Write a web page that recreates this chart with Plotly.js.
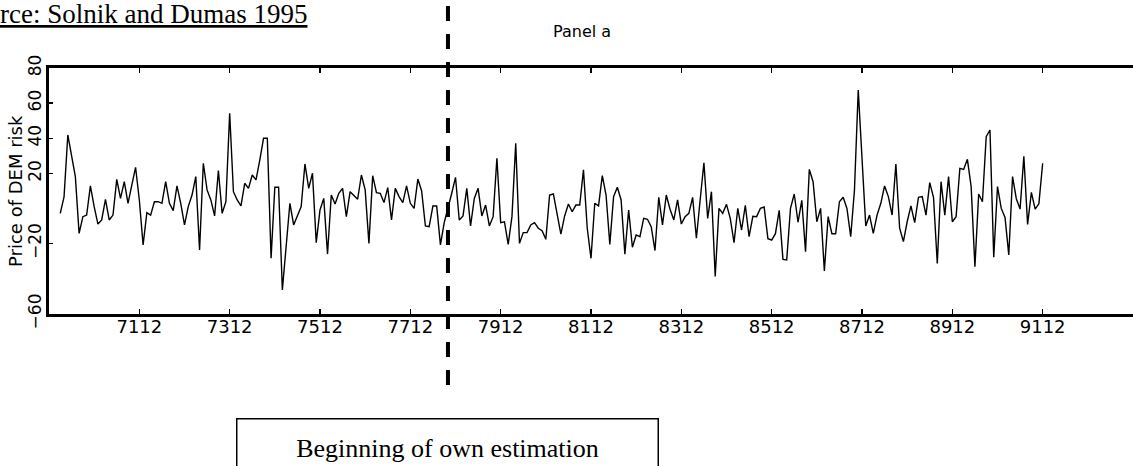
<!DOCTYPE html>
<html>
<head>
<meta charset="utf-8">
<script src="https://cdn.plot.ly/plotly-3.0.1.min.js"></script>
<style>
  html, body { margin: 0; padding: 0; background: #ffffff; }
  #chart { width: 1133px; height: 466px; }
</style>
</head>
<body>
<div id="chart"></div>
<script>
// Monthly index: 0 = January 1970
const firstObsMonth = 2; // March 1970

// Price of DEM risk, monthly, March 1970 - December 1991
const priceOfDEMRisk = [
  -2.7, 6.8, 41.9, 29.5, 18.2, -14.1, -4.6, -3.7, 12.9, 1.1,
  -8.8, -6.5, 5.3, -6.5, -3.7, 16.6, 5.8, 15.3, 3.0, 13.4,
  23.5, 4.9, -20.7, -2.3, -3.7, 3.9, 3.9, 3.0, 15.3, 3.0,
  -1.2, 12.9, 3.0, -9.3, 1.1, 7.7, 18.2, -23.6, 25.8, 10.6,
  4.9, -4.2, 21.6, -2.7, 3.9, 54.2, 9.6, 4.9, 1.5, 14.4,
  11.5, 19.1,
  16.3, 27.6, 40.0, 40.0, -28.3, 12.1, 12.1, -46.3, -22.0, 3.0,
  -9.3, -3.7, 1.1, 25.4, 11.5, 20.1, -19.4, -0.8, 5.8, -25.9,
  7.7, 2.6, 8.7, 11.5, -4.6, 9.6, 7.7, 5.3, 19.1, 10.6,
  -19.8, 18.7, 9.1, 8.7, 3.4, 11.9, -6.5, 11.5, 6.8, 3.4,
  12.9, 3.0, 0.1, 16.8, 10.0, -9.9, -10.3, 1.5, 1.5, -20.7,
  -8.0,
  0.0, 8.7, 17.8, -6.5, -4.2, 11.5, -9.9, 5.8, 11.5, -4.2,
  2.0, -9.9, -4.6, 28.6, -8.0, -7.5, -20.4, -4.6, 37.1, -19.8,
  -13.7, -13.7, -9.3, -8.0, -11.2, -12.6, -17.5, 7.7, 8.3, -3.7,
  -14.5, -4.2, 2.6, -1.8, 2.0, 2.0, 22.0, -11.2, -28.3, 3.0,
  1.5, 18.7, 7.7, -20.4, 6.8, 12.1, 4.9, -25.9, -0.8, -22.0,
  -15.0, -16.0,
  -5.6, -6.1, -10.3, -23.9, 6.4, -9.3, 7.7, -0.4, -6.5, 4.9,
  -8.8, -4.6, -2.7, 6.4, -16.9, 4.9, 26.1, -5.6, 9.6, -38.7,
  0.1, -2.7, 2.4, -5.6, -19.4, 0.1, -12.2, 1.8, -16.0, -4.4,
  -4.6, 0.1, 0.9, -17.1, -17.9, -14.3, -1.0, -28.9, -29.2, 0.1,
  8.3, -7.8, 4.7, -24.5, 22.3, 15.3, -7.5, 0.1, -35.5, -4.6,
  -14.3, -14.3, 3.9,
  6.4, 0.1, -16.0, 10.6, 67.5, 27.6, -9.9, -3.7, -14.1, -3.7,
  3.0, 12.9, 6.8, -3.7, 25.4, -11.2, -18.8, -7.5, 1.5, -8.0,
  6.4, 6.8, -3.7, 14.8, 6.4, -31.2, 15.3, -3.7, 18.2, -7.5,
  -4.6, 22.9, 22.3, 28.0, 12.5, -33.1, 8.3, 3.9, 40.9, 44.7,
  -27.7, 12.5, 0.1, -5.0, -26.4, 18.2, 5.6, -0.3, 29.8, -9.0,
  9.2, -0.3, 2.8, 25.8
];

const xTickLabels = ['7112', '7312', '7512', '7712', '7912', '8112', '8312', '8512', '8712', '8912', '9112'];
const yTickValues = [-60, -20, 20, 40, 60, 80];
const yTickLabels = ['\u221260', '\u221220', '20', '40', '60', '80'];
const estimationStartLabel = '7810';
const xRangeLabels = ['6912', '9312'];

const yymmToMonth = s => (parseInt(s.slice(0, 2), 10) - 70) * 12 + parseInt(s.slice(2), 10) - 1;
const xMonths = priceOfDEMRisk.map((_, i) => firstObsMonth + i);
const xTickMonths = xTickLabels.map(yymmToMonth);
const estimationStartMonth = yymmToMonth(estimationStartLabel);

const sansFont = 'DejaVu Sans, Arial, sans-serif';
const serifFont = 'Liberation Serif, Times New Roman, serif';

const trace = {
  x: xMonths,
  y: priceOfDEMRisk,
  type: 'scatter',
  mode: 'lines',
  line: { color: '#000000', width: 1.4 },
  hoverinfo: 'skip',
  showlegend: false
};

const layout = {
  width: 1133,
  height: 466,
  margin: { l: 49, r: 0, t: 68, b: 152 },
  paper_bgcolor: '#ffffff',
  plot_bgcolor: '#ffffff',
  showlegend: false,
  xaxis: {
    range: xRangeLabels.map(yymmToMonth),
    tickmode: 'array',
    tickvals: xTickMonths,
    ticktext: xTickLabels,
    ticks: 'inside',
    ticklen: 5,
    tickwidth: 1.5,
    tickcolor: '#000000',
    ticklabelstandoff: -6,
    showline: true,
    linewidth: 3,
    linecolor: '#000000',
    mirror: 'ticks',
    showgrid: false,
    zeroline: false,
    tickfont: { family: sansFont, size: 18, color: '#000000' },
    fixedrange: true
  },
  yaxis: {
    range: [-60, 80],
    tickmode: 'array',
    tickvals: yTickValues,
    ticktext: yTickLabels,
    tickangle: -90,
    ticks: 'inside',
    ticklen: 4,
    tickwidth: 1.5,
    tickcolor: '#000000',
    ticklabelstandoff: -2,
    showline: true,
    linewidth: 3,
    linecolor: '#000000',
    mirror: false,
    showgrid: false,
    zeroline: false,
    tickfont: { family: sansFont, size: 17, color: '#000000' },
    fixedrange: true
  },
  shapes: [{
    type: 'line',
    xref: 'x',
    yref: 'paper',
    x0: estimationStartMonth,
    x1: estimationStartMonth,
    y0: 1.252,
    y1: -0.293,
    line: { color: '#000000', width: 4, dash: '15px,13px' }
  }],
  annotations: [
    {
      text: 'Price of DEM risk',
      xref: 'paper', yref: 'paper',
      x: 0, y: 0.5,
      xanchor: 'center', yanchor: 'middle',
      xshift: -34,
      textangle: -90,
      showarrow: false,
      font: { family: sansFont, size: 18, color: '#000000' }
    },
    {
      text: 'Panel a',
      xref: 'paper', yref: 'paper',
      x: 0, y: 1,
      xanchor: 'center', yanchor: 'middle',
      xshift: 533, yshift: 37,
      showarrow: false,
      font: { family: sansFont, size: 16, color: '#000000' }
    },
    {
      text: '<u>rce: Solnik and Dumas 1995</u>',
      xref: 'paper', yref: 'paper',
      x: 0, y: 1,
      xanchor: 'left', yanchor: 'top',
      xshift: -50, yshift: 70,
      showarrow: false,
      borderpad: 0,
      font: { family: serifFont, size: 27, color: '#000000' }
    },
    {
      text: 'Beginning of own estimation',
      xref: 'x', yref: 'paper',
      x: estimationStartMonth, y: 0,
      xanchor: 'center', yanchor: 'middle',
      yshift: -134,
      width: 420, height: 58,
      showarrow: false,
      bgcolor: '#ffffff',
      bordercolor: '#000000',
      borderwidth: 1.5,
      borderpad: 0,
      font: { family: serifFont, size: 26, color: '#000000' }
    }
  ]
};

Plotly.newPlot('chart', [trace], layout, { displayModeBar: false, staticPlot: true });
</script>
</body>
</html>
